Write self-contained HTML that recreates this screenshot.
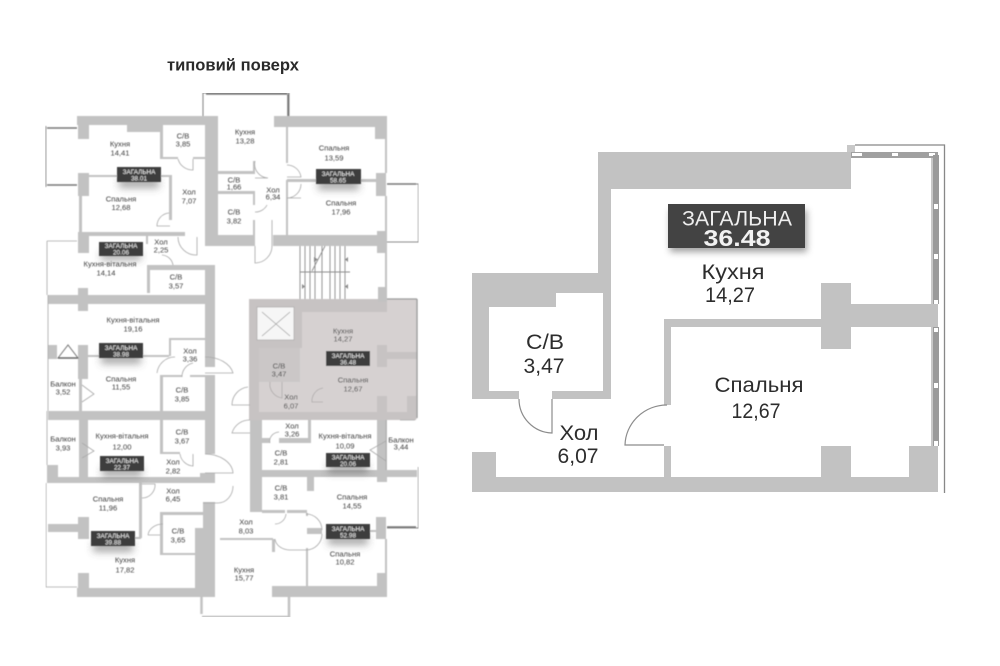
<!DOCTYPE html>
<html lang="uk"><head><meta charset="utf-8"><title>типовий поверх</title>
<style>
html,body{margin:0;padding:0;background:#fff}
svg{display:block}
text{font-family:"Liberation Sans","DejaVu Sans",sans-serif;text-anchor:middle}
.l text{font-size:7.6px;fill:#3c3c3c}
.l text.b{font-size:6.4px;fill:#eee}
.w{fill:#c2c2c2}
.t{stroke:#c2c2c2;stroke-width:2.5;fill:none}
.d{stroke:#a8a8a8;stroke-width:.8;fill:none}
.g{stroke:#8a8a8a;stroke-width:1.1;fill:none}
.r text{fill:#2d2d2d;font-size:21px}
</style></head><body>
<svg width="1000" height="666" viewBox="0 0 1000 666" xmlns="http://www.w3.org/2000/svg">
<defs>
<filter id="s" x="-50%" y="-50%" width="200%" height="200%"><feGaussianBlur stdDeviation="4"/></filter>
<filter id="s2" x="-20%" y="-50%" width="140%" height="200%"><feGaussianBlur stdDeviation="3.5"/></filter>
<filter id="bl" x="0" y="0" width="100%" height="100%"><feGaussianBlur stdDeviation=".4"/></filter>
</defs>
<rect width="1000" height="666" fill="#fff"/>
<text x="233" y="70.500" style="font-size:17px;font-weight:700;fill:#2a2a2a" textLength="132" lengthAdjust="spacingAndGlyphs">типовий поверх</text>

<g class="l" filter="url(#bl)">
<!-- shaded apartment -->
<rect x="249" y="299" width="168" height="120" fill="#d6d1d1"/>
<path d="M249 299H387V312H302V348H259V412H377V396H387V412H407V396H416V420H249Z" fill="#c7c3c3"/>
<rect x="259" y="348" width="41" height="34" fill="#cbc7c7"/>
<rect x="257" y="307" width="37" height="33" fill="#f6f6f6" stroke="#aaa" stroke-width=".7"/>
<path d="M262 312L290 336M290 312L262 336" stroke="#999" stroke-width=".7"/>
<rect x="377" y="345" width="10" height="22" fill="#c7c3c3"/>
<rect x="387" y="352" width="30" height="7" fill="#c7c3c3"/>
<path d="M417 299V418" stroke="#a0a0a0" stroke-width="1.500"/>
<path d="M387 299H417" stroke="#999" stroke-width="1.200"/>
<path d="M270 382A14 14 0 0 0 282 398V382M323 388A13 13 0 0 0 312 402H323" stroke="#b0acac" stroke-width=".8" fill="none"/>

<!-- walls -->
<path class="w" d="M77 116H218V245H205V125H160V132H127V125H89V139H78V125H77Z"/>
<rect class="w" x="78" y="173" width="11" height="23"/>
<rect class="w" x="78" y="232" width="107" height="4"/>
<rect class="w" x="78" y="232" width="11" height="21"/>
<rect class="w" x="205" y="232" width="10" height="13"/>
<path class="w" d="M79 196h3v36h-3zM89 175h28v2H89zM161 175h11v2h-11zM169 175h3v45h-3zM160 125h3v34h-3zM160 157h18v2h-18zM193 157h12v2h-12zM146 236h2v8h-2z"/>
<path class="w" d="M147 265H215V367H205V270H150V293H147Z"/>
<path class="w" d="M48 295H207V304H88V311H78V304H48Z"/>
<rect class="w" x="78" y="288" width="10" height="8"/>
<rect class="w" x="48" y="345" width="9" height="14"/>
<rect class="w" x="78" y="345" width="10" height="22"/>
<path class="w" d="M79 367h3v44h-3zM88 355h12v2H88zM143 355h26v2h-26zM170 338h35v2h-35zM169 338h2v18h-2z"/>
<path class="w" d="M48 411H215V420H88V480H79V420H48Z"/>
<path class="w" d="M160 375H182V377H163V411H160ZM190 375H215V411H205V377H190ZM160 420H163V452H180V454H160ZM205 420H215V454H205Z"/>
<rect class="w" x="78" y="365" width="10" height="14"/>
<path class="w" d="M47 465H58V477H215V483H47Z"/>
<rect class="w" x="200" y="473" width="15" height="10"/>
<path class="w" d="M139 483h3v55h-3zM135 537h6v2h-6zM48 524H78V532H48Z"/>
<rect class="w" x="78" y="517" width="11" height="22"/>
<path class="w" d="M160 512H203V515H163V553H195V555H160Z"/>
<path class="w" d="M203 502H215V597H77V588H78V573H89V588H195V528H203Z"/>
<!-- centre / right top unit -->
<path class="w" d="M274 116H387V139H375V127H274Z"/>
<path class="w" d="M385 139h2v34h-2zM376 173h10v23h-10zM385 196h2v35h-2zM286 127h2v36h-2zM286 180h2v55h-2zM217 171h36v3h-36zM217 191h36v3h-36zM253 161h2v13h-2zM253 191h2v14h-2zM253 220h2v15h-2zM287 179h29v3h-29zM361 179h15v3h-15z"/>
<path class="w" d="M205 116H217V235H255V246H205Z"/>
<path class="w" d="M273 235H377V231H387V253H377V246H273Z"/>
<path class="w" d="M385 253h2v34h-2zM378 287h9v15h-9z"/>
<!-- lower centre -->
<path class="w" d="M250 420H262V512H250Z"/>
<path class="w" d="M262 438H270V443H262ZM279 438H311V443H279ZM308 420H311V440H308Z"/>
<path class="w" d="M262 470H417V477H387V482H377V477H314V491H307V477H262Z"/>
<rect class="w" x="377" y="420" width="10" height="60"/>
<path class="w" d="M262 510H285V513H262ZM287 510H307V513H287ZM306 513h2v3h-2zM306 548h2v38h-2zM307 528h15v6h-15zM370 530h6v2h-6zM385 539h2v35h-2zM376 517h10v22h-10zM220 538H273V540H220ZM272 539h3v13h-3z"/>
<path class="w" d="M272 586H377V573H387V597H272Z"/>
<path class="t" d="M201.500 597V614M202 617H289V597" stroke-width="2"/>

<!-- balconies -->
<path d="M45.500 126V187" stroke="#666" stroke-width="1.300"/>
<path d="M47 128H77M47 185H77" stroke="#777" stroke-width="1.400"/>
<path class="d" d="M47 241H77M47 241V295M48 295V411M47 411V465M46 483V587H77"/>
<path class="g" d="M203 116V93H289V116"/>
<path d="M206 94H287M288 94V116" stroke="#777" stroke-width="1.600"/>
<path class="g" d="M387 184H418.500V242H387"/>
<path d="M387 184H416" stroke="#777" stroke-width="1.600"/>
<path class="g" d="M418.500 467V528H387"/>
<path d="M387 527H416" stroke="#777" stroke-width="1.400"/>
<path class="d" d="M386 420V470M400 420H415"/>
<path d="M58 358L68 345L78 358Z" fill="none" stroke="#777" stroke-width="1"/>
<path d="M58 358H78" stroke="#666" stroke-width="1.600"/>

<!-- stairs -->
<path stroke="#8c8c8c" stroke-width=".9" fill="none" d="M300 246V299M305 246V299M310 246V299M315 246V299M322 246V299M330 246V299M335 246V299M340 246V299M345 246V299M300 272H350M325 246L312 271"/>
<path fill="#888" d="M314 257l4 2.500l-4 2.500zM348 257l-3 2.500l3 2.500zM302 284l3 2.500l-3 2.500zM348 284l-3 2.500l3 2.500z"/>

<!-- doors -->
<path class="d" d="M178 159A15 15 0 0 0 193 170V159M169 213A13 13 0 0 0 157 226H170M178 237A18 18 0 0 0 197 255V237M162 255A12 12 0 0 1 173 265M287 165A14 14 0 0 1 301 177H287M301 184A14 14 0 0 1 287 198H301M255 161A14 14 0 0 0 268 178H255M255 212A13 13 0 0 0 267 205M255 246V263A17 17 0 0 0 272 246V220M82 385L94 394L82 402M82 443L94 451L82 458M157 373A18 18 0 0 1 175 357M205 357A28 20 0 0 1 233 373H205M182 377A14 14 0 0 1 193 363M180 454A14 14 0 0 0 193 466V454M205 454A28 20 0 0 1 233 473H205M248 387A18 18 0 0 0 232 405H250M250 420A18 18 0 0 0 232 433H250M270 443A10 9 0 0 1 279 432M386 441L370 450L386 461M306 514A16 16 0 0 1 322 530M322 534A16 16 0 0 1 306 550H290A15 12 0 0 1 275 539M286 514A11 11 0 0 1 275 524M142 484H155A13 13 0 0 1 142 498M148 535A15 12 0 0 1 163 524M148 535H160M233 486A15 17 0 0 1 218 503H203"/>

<!-- shadows -->
<g fill="#555" opacity=".5" filter="url(#s)">
<rect x="119" y="178" width="40" height="10"/><rect x="101" y="252" width="40" height="8"/>
<rect x="318" y="180" width="41" height="10"/><rect x="101" y="354" width="40" height="10"/>
<rect x="102" y="467" width="40" height="10"/><rect x="328" y="463" width="40" height="10"/>
<rect x="93" y="542" width="40" height="10"/><rect x="328" y="535" width="40" height="10"/>
</g>

<!-- badges -->
<g fill="#3e3e3e">
<rect x="117" y="167" width="44" height="15"/><rect x="99" y="242" width="44" height="14"/>
<rect x="316" y="169" width="45" height="15"/><rect x="99" y="343" width="44" height="15"/>
<rect x="100" y="456" width="44" height="15"/><rect x="326" y="351" width="44" height="15"/>
<rect x="326" y="453" width="44" height="14"/><rect x="91" y="531" width="44" height="15"/>
<rect x="326" y="524" width="44" height="15"/>
</g>
<text class="b" x="139" y="174">ЗАГАЛЬНА</text><text class="b" x="139" y="180.500">38.01</text>
<text class="b" x="121" y="248">ЗАГАЛЬНА</text><text class="b" x="121" y="254.500">20.06</text>
<text class="b" x="338" y="176">ЗАГАЛЬНА</text><text class="b" x="338" y="182.500">58.65</text>
<text class="b" x="121" y="350">ЗАГАЛЬНА</text><text class="b" x="121" y="356.500">38.98</text>
<text class="b" x="122" y="463">ЗАГАЛЬНА</text><text class="b" x="122" y="469.500">22.37</text>
<text class="b" x="348" y="358">ЗАГАЛЬНА</text><text class="b" x="348" y="364.500">36.48</text>
<text class="b" x="348" y="459.500">ЗАГАЛЬНА</text><text class="b" x="348" y="466">20.06</text>
<text class="b" x="113" y="538">ЗАГАЛЬНА</text><text class="b" x="113" y="544.500">39.88</text>
<text class="b" x="348" y="531">ЗАГАЛЬНА</text><text class="b" x="348" y="537.500">52.98</text>

<!-- labels -->
<text x="120" y="146.500">Кухня</text><text x="120" y="155.500">14,41</text>
<text x="183" y="138.500">С/В</text><text x="183" y="146.500">3,85</text>
<text x="121" y="201.500">Спальня</text><text x="121" y="210">12,68</text>
<text x="189" y="194.500">Хол</text><text x="189" y="203.500">7,07</text>
<text x="161" y="244.500">Хол</text><text x="161" y="252.500">2,25</text>
<text x="110" y="266.500">Кухня-вітальня</text><text x="106" y="275.500">14,14</text>
<text x="176" y="279.500">С/В</text><text x="176" y="288.500">3,57</text>
<text x="245" y="134.500">Кухня</text><text x="245" y="143.500">13,28</text>
<text x="334" y="150.500">Спальня</text><text x="334" y="160.500">13,59</text>
<text x="234" y="182.500">С/В</text><text x="234" y="189.500">1,66</text>
<text x="273" y="192.500">Хол</text><text x="273" y="199.500">6,34</text>
<text x="234" y="214.500">С/В</text><text x="234" y="223.500">3,82</text>
<text x="341" y="205.500">Спальня</text><text x="341" y="214.500">17,96</text>
<text x="133" y="322.500">Кухня-вітальня</text><text x="133" y="331.500">19,16</text>
<text x="190" y="353.500">Хол</text><text x="190" y="361.500">3,36</text>
<text x="121" y="381.500">Спальня</text><text x="121" y="389.500">11,55</text>
<text x="63" y="386.500">Балкон</text><text x="63" y="394.500">3,52</text>
<text x="182" y="392.500">С/В</text><text x="182" y="401.500">3,85</text>
<text x="63" y="441.500">Балкон</text><text x="63" y="450.500">3,93</text>
<text x="122" y="438.500">Кухня-вітальня</text><text x="122" y="449.500">12,00</text>
<text x="182" y="434.500">С/В</text><text x="182" y="443.500">3,67</text>
<text x="173" y="464.500">Хол</text><text x="173" y="473.500">2,82</text>
<text x="343" y="333.500">Кухня</text><text x="343" y="341.500">14,27</text>
<text x="353" y="382.500">Спальня</text><text x="353" y="391.500">12,67</text>
<text x="279" y="368.500">С/В</text><text x="279" y="376.500">3,47</text>
<text x="291" y="399.500">Хол</text><text x="291" y="408.500">6,07</text>
<text x="292" y="428.500">Хол</text><text x="292" y="436.500">3,26</text>
<text x="345" y="438.500">Кухня-вітальня</text><text x="345" y="448.500">10,09</text>
<text x="401" y="442.500">Балкон</text><text x="401" y="449.500">3,44</text>
<text x="281" y="455.500">С/В</text><text x="281" y="464.500">2,81</text>
<text x="108" y="501.500">Спальня</text><text x="108" y="510.500">11,96</text>
<text x="173" y="493.500">Хол</text><text x="173" y="501.500">6,45</text>
<text x="178" y="533.500">С/В</text><text x="178" y="542.500">3,65</text>
<text x="125" y="562.500">Кухня</text><text x="125" y="572.500">17,82</text>
<text x="281" y="490.500">С/В</text><text x="281" y="499.500">3,81</text>
<text x="352" y="499.500">Спальня</text><text x="352" y="508.500">14,55</text>
<text x="246" y="524.500">Хол</text><text x="246" y="533.500">8,03</text>
<text x="345" y="556.500">Спальня</text><text x="345" y="564.500">10,82</text>
<text x="244" y="572.500">Кухня</text><text x="244" y="580.500">15,77</text>
</g>

<!-- RIGHT PLAN -->
<g class="r">
<path class="w" d="M598 152H851V189H611V293H556V307H489V391H519V399H472V273H598Z"/>
<path class="w" d="M603 293H611V399H552V391H603Z"/>
<path class="w" d="M472 452H496V477H664V446H671V477H821V446H851V477H909V446H938V492H472Z"/>
<path class="w" d="M664 319H821V283H851V304H938V327H851V349H821V327H671V405H664Z"/>
<rect x="847" y="145" width="8" height="7" fill="#c8c8c8"/>
<!-- windows -->
<path d="M855 145H944.500V493" fill="none" stroke="#888" stroke-width="1.300"/>
<rect x="851" y="152" width="87" height="6" fill="#a0a0a0"/>
<rect x="852" y="153" width="10" height="3" fill="#fff"/>
<rect x="892" y="153" width="6" height="3" fill="#fff"/>
<rect x="929" y="153" width="6" height="3" fill="#fff"/>
<rect x="933" y="155" width="6" height="149" fill="#9a9a9a"/>
<rect x="933" y="327" width="6" height="119" fill="#9a9a9a"/>
<path d="M932 158V304M932 327V446" stroke="#777" stroke-width=".8"/>
<g fill="#fff"><rect x="934" y="204" width="4" height="5"/><rect x="934" y="254" width="4" height="5"/><rect x="934" y="300" width="4" height="4"/><rect x="934" y="328" width="4" height="4"/><rect x="934" y="383" width="4" height="5"/><rect x="934" y="441" width="4" height="5"/></g>
<!-- doors -->
<path d="M519 399A34 34 0 0 0 552 433V399" fill="none" stroke="#8c8c8c" stroke-width="1.200"/>
<path d="M667 405A42 41 0 0 0 625 445H664" fill="none" stroke="#8c8c8c" stroke-width="1.200"/>
<!-- badge -->
<rect x="670" y="210" width="137" height="42" fill="#555" opacity=".55" filter="url(#s2)"/>
<rect x="668" y="204" width="137" height="44" fill="#434343"/>
<text x="737" y="225.500" style="fill:#eee;font-size:21px" textLength="110" lengthAdjust="spacingAndGlyphs">ЗАГАЛЬНА</text>
<text x="737" y="246" style="fill:#f2f2f2;font-size:23px;font-weight:700" textLength="67" lengthAdjust="spacingAndGlyphs">36.48</text>
<!-- labels -->
<text x="733" y="279" textLength="63" lengthAdjust="spacingAndGlyphs">Кухня</text>
<text x="730" y="302" textLength="50" lengthAdjust="spacingAndGlyphs">14,27</text>
<text x="545" y="349" textLength="38" lengthAdjust="spacingAndGlyphs">С/В</text>
<text x="544" y="373" textLength="41" lengthAdjust="spacingAndGlyphs">3,47</text>
<text x="579" y="440" textLength="39" lengthAdjust="spacingAndGlyphs">Хол</text>
<text x="578" y="463" textLength="41" lengthAdjust="spacingAndGlyphs">6,07</text>
<text x="759" y="392" textLength="89" lengthAdjust="spacingAndGlyphs">Спальня</text>
<text x="756" y="418" textLength="49" lengthAdjust="spacingAndGlyphs">12,67</text>
</g>
</svg>
</body></html>
